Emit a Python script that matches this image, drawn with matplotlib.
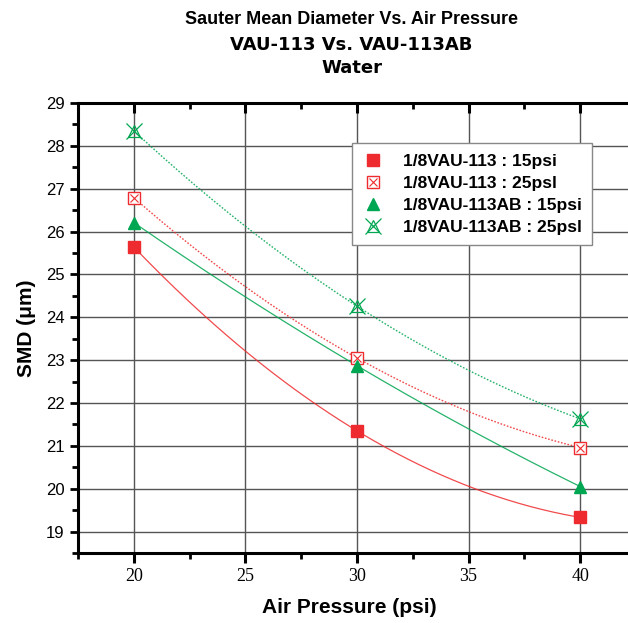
import numpy as np
import matplotlib
matplotlib.use("Agg")
import matplotlib.pyplot as plt
from matplotlib.ticker import MultipleLocator

# data
pressure = [20, 30, 40]
vau113_15 = [25.64, 21.35, 19.33]
vau113_25 = [26.79, 23.05, 20.96]
vau113ab_15 = [26.21, 22.87, 20.05]
vau113ab_25 = [28.35, 24.26, 21.63]

red = '#ee2b2e'
green = '#00a651'

fig = plt.figure(figsize=(6.28, 6.23), dpi=100)
# the reference is cropped on the right, so the axes run past the figure edge
ax = fig.add_axes([0.1242, 0.1124, 0.8885, 0.7223])

xs = np.linspace(20, 40, 200)


def fit_curve(y):
    # 2nd order fit through the three points, like the original trend lines
    c = np.polyfit(pressure, y, 2)
    return np.polyval(c, xs)


ax.plot(xs, fit_curve(vau113_15), color=red, lw=0.9, alpha=0.85)
ax.plot(xs, fit_curve(vau113_25), color=red, lw=1.0, ls=(0, (1.2, 1.2)), alpha=0.85)
ax.plot(xs, fit_curve(vau113ab_15), color=green, lw=0.9, alpha=0.85)
ax.plot(xs, fit_curve(vau113ab_25), color=green, lw=1.0, ls=(0, (1.2, 1.2)), alpha=0.85)

h1, = ax.plot(pressure, vau113_15, 's', color=red, ms=8, zorder=5)
h2a, = ax.plot(pressure, vau113_25, 's', mfc='white', mec=red, mew=1.0, ms=8, zorder=5)
h2b, = ax.plot(pressure, vau113_25, 'x', color=red, mew=0.8, ms=6, zorder=6)
h3, = ax.plot(pressure, vau113ab_15, '^', color=green, ms=9, zorder=5)
h4a, = ax.plot(pressure, vau113ab_25, '^', mfc='none', mec=green, mew=0.9, ms=9, zorder=5)
h4b, = ax.plot(pressure, vau113ab_25, 'x', color=green, mew=0.9, ms=11, zorder=6)

ax.set_xlim(17.5, 42.5)
ax.set_ylim(18.5, 29)
ax.xaxis.set_major_locator(MultipleLocator(5))
ax.xaxis.set_minor_locator(MultipleLocator(2.5))
ax.yaxis.set_major_locator(MultipleLocator(1))
ax.yaxis.set_minor_locator(MultipleLocator(0.5))

ax.grid(True, which='major', color='#555555', lw=1.0)
ax.set_axisbelow(True)

for s in ax.spines.values():
    s.set_linewidth(2.2)

ax.tick_params(axis='x', which='major', direction='out', length=7, width=2.2, top=True)
ax.tick_params(axis='x', which='minor', direction='out', length=4, width=2.0, top=True)
ax.tick_params(axis='y', which='major', direction='out', length=6, width=2.0)
ax.tick_params(axis='y', which='minor', direction='out', length=4, width=2.0)
ax.tick_params(axis='x', which='both', labelsize=13)
ax.tick_params(axis='y', which='both', labelsize=12)
for lab in ax.get_xticklabels():
    lab.set_family('Liberation Serif')
for lab in ax.get_yticklabels():
    lab.set_family('Liberation Sans')
# top ticks point inward
for t in ax.xaxis.get_major_ticks() + ax.xaxis.get_minor_ticks():
    t.tick2line.set_marker(3)

ax.set_xlabel('Air Pressure (psi)', family='Liberation Sans', fontsize=15,
              fontweight='bold')
ax.set_ylabel('SMD (μm)', family='Liberation Sans', fontsize=15,
              fontweight='bold')
ax.xaxis.set_label_coords(0.487, -0.1)
ax.yaxis.set_label_coords(-0.075, 0.5)

fig.text(0.56, 0.968, 'Sauter Mean Diameter Vs. Air Pressure', ha='center', va='center',
         family='Liberation Sans', fontsize=13, fontweight='bold')
fig.text(0.56, 0.928, 'VAU-113 Vs. VAU-113AB', ha='center', va='center',
         family='DejaVu Sans', fontsize=13, fontweight='bold')
fig.text(0.56, 0.891, 'Water', ha='center', va='center',
         family='DejaVu Sans', fontsize=13, fontweight='bold')

leg = ax.legend([h1, (h2a, h2b), h3, (h4a, h4b)],
                ['1/8VAU-113 : 15psi', '1/8VAU-113 : 25psl',
                 '1/8VAU-113AB : 15psi', '1/8VAU-113AB : 25psl'],
                loc='upper left', bbox_to_anchor=(0.476, 0.93), fancybox=False,
                framealpha=1, edgecolor='#888888', borderpad=0.6,
                handlelength=1.2, handletextpad=1.1, labelspacing=0.4,
                prop={'family': 'Liberation Sans', 'weight': 'bold', 'size': 12.5})
leg.get_frame().set_linewidth(1.0)

fig.savefig('out.png', dpi=100)
